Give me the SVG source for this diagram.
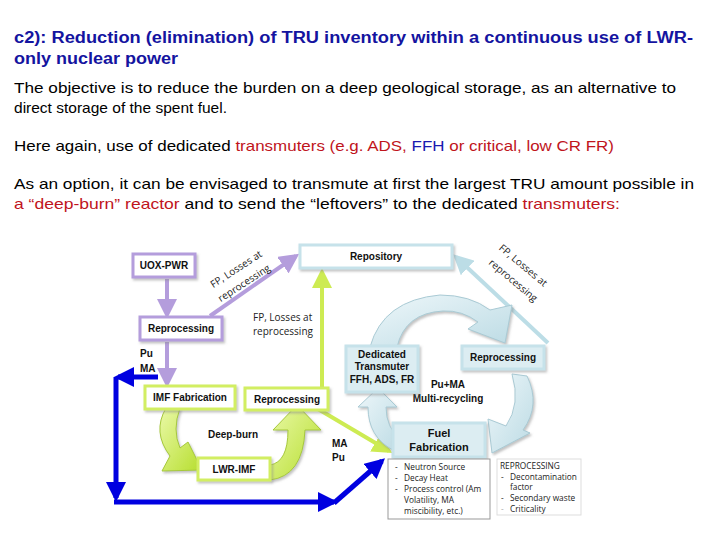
<svg xmlns="http://www.w3.org/2000/svg" width="720" height="540" viewBox="0 0 720 540">
<defs>
<style>
.t{font-family:"Liberation Sans",Arial,sans-serif;}
.title{font-size:16px;font-weight:bold;fill:#1414a0;}
.body{font-size:15px;fill:#000;}
.red{fill:#c0141c;}
.blue{fill:#1a1ab0;}
.nb{font-size:10px;font-weight:bold;fill:#111;text-anchor:middle;}
.lbl{font-size:10px;font-weight:bold;fill:#111;}
.sm{font-family:"Open Sans","Liberation Sans",sans-serif;font-size:10px;fill:#222;}
.tiny{font-family:"Open Sans","Liberation Sans",sans-serif;font-size:8.3px;fill:#222;}
.lav{fill:#fff;stroke:#b49ddc;stroke-width:3;}
.lime{fill:#fff;stroke:#d2ee62;stroke-width:3;}
.lb{fill:#fff;stroke:#c6e2ea;stroke-width:3;}
.lbf{fill:#dcedf2;stroke:#c6e2ea;stroke-width:3;}
.blk{fill:#0000e0;}
</style>
<filter id="sh" x="-20%" y="-20%" width="140%" height="150%">
<feDropShadow dx="1.5" dy="2" stdDeviation="1.2" flood-color="#888" flood-opacity="0.5"/>
</filter>
<linearGradient id="gl" x1="0" y1="0" x2="1" y2="1">
<stop offset="0" stop-color="#eaf9a8"/><stop offset="1" stop-color="#b6de2e"/>
</linearGradient>
<linearGradient id="gb" x1="0" y1="0" x2="1" y2="1">
<stop offset="0" stop-color="#eef7fa"/><stop offset="1" stop-color="#bcdbe4"/>
</linearGradient>
<marker id="mLav" markerWidth="5" markerHeight="5" refX="4" refY="2.5" orient="auto" markerUnits="strokeWidth">
<path d="M0,0 L5,2.5 L0,5 Z" fill="#b49ddc"/>
</marker>
<marker id="mLime" markerWidth="5" markerHeight="5" refX="4" refY="2.5" orient="auto" markerUnits="strokeWidth">
<path d="M0,0 L5,2.5 L0,5 Z" fill="#cdeb52"/>
</marker>
<marker id="mLb" markerWidth="5" markerHeight="5" refX="4" refY="2.5" orient="auto" markerUnits="strokeWidth">
<path d="M0,0 L5,2.5 L0,5 Z" fill="#bcdde6"/>
</marker>
<marker id="mBl" markerWidth="4" markerHeight="4" refX="3.2" refY="2" orient="auto" markerUnits="strokeWidth">
<path d="M0,0 L4,2 L0,4 Z" fill="#0000e0"/>
</marker>
</defs>
<rect width="720" height="540" fill="#fff"/>

<g id="text-header" class="t">
<text class="title" x="14" y="43" textLength="679" lengthAdjust="spacingAndGlyphs">c2):  Reduction (elimination) of TRU inventory within a  continuous use of LWR-</text>
<text class="title" x="14" y="64" textLength="164" lengthAdjust="spacingAndGlyphs">only nuclear power</text>
<text class="body" x="14" y="93" textLength="662" lengthAdjust="spacingAndGlyphs">The objective is to reduce the burden on a deep geological storage, as an alternative to</text>
<text class="body" x="14" y="113" textLength="213" lengthAdjust="spacingAndGlyphs">direct storage of the spent fuel.</text>
<text class="body" x="14" y="151" textLength="600" lengthAdjust="spacingAndGlyphs">Here again, use of dedicated <tspan class="red">transmuters (e.g. ADS, </tspan><tspan class="blue">FFH</tspan><tspan class="red"> or critical, low CR FR)</tspan></text>
<text class="body" x="14" y="189" textLength="680" lengthAdjust="spacingAndGlyphs">As an option, it can be envisaged to transmute at first the largest TRU amount possible in</text>
<text class="body" x="14" y="209" textLength="606" lengthAdjust="spacingAndGlyphs"><tspan class="red">a “deep-burn” reactor</tspan> and to send the “leftovers” to the dedicated <tspan class="red">transmuters:</tspan></text>
</g>

<g id="connectors">
<!-- lavender -->
<line x1="167" y1="279" x2="167" y2="315" stroke="#b49ddc" stroke-width="4" marker-end="url(#mLav)"/>
<line x1="167" y1="342" x2="167" y2="384" stroke="#b49ddc" stroke-width="4" marker-end="url(#mLav)"/>
<line x1="210" y1="316" x2="296" y2="256" stroke="#b49ddc" stroke-width="4" marker-end="url(#mLav)"/>
<!-- lime -->
<line x1="322" y1="387" x2="322" y2="272" stroke="#cdeb52" stroke-width="4" marker-end="url(#mLime)"/>
<line x1="318" y1="409" x2="389" y2="451" stroke="#cdeb52" stroke-width="4" marker-end="url(#mLime)"/>
<!-- light blue -->
<line x1="548" y1="343" x2="456" y2="257" stroke="#bcdde6" stroke-width="4" marker-end="url(#mLb)"/>
<!-- blue -->
<line x1="158" y1="377" x2="118" y2="377" stroke="#0000e0" stroke-width="5" marker-end="url(#mBl)"/>
<line x1="116" y1="377" x2="116" y2="498" stroke="#0000e0" stroke-width="5" marker-end="url(#mBl)"/>
<line x1="114" y1="502" x2="334" y2="502" stroke="#0000e0" stroke-width="5" marker-end="url(#mBl)"/>
<line x1="334" y1="503" x2="382" y2="461" stroke="#0000e0" stroke-width="5" marker-end="url(#mBl)"/>
<!-- block curved arrows: light blue -->
<path filter="url(#sh)" d="M370,347 Q383,300 440,295 Q470,295 490,310 L512,305 L505,343 L468,329 L478,322 Q462,310 443,311 Q405,313 397,347 Z" fill="url(#gb)" stroke="#a9cad4" stroke-width="1"/>
<path filter="url(#sh)" d="M512,374 L527,376 Q541,405 523,430 L530,433 L492,453 L488,419 L506,426 Q521,404 512,374 Z" fill="url(#gb)" stroke="#a9cad4" stroke-width="1"/>
<path filter="url(#sh)" d="M378,388 L397,407 L386,407 Q386,428 401,440 L393,450 Q368,437 368,407 L358,407 Z" fill="url(#gb)" stroke="#a9cad4" stroke-width="1"/>
<!-- block curved arrows: lime -->
<path filter="url(#sh)" d="M166,408 L180,408 Q172,430 180,448 L188,442 L202,470 L162,471 L170,456 Q152,432 166,408 Z" fill="url(#gl)" stroke="#a6c83a" stroke-width="1"/>
<path filter="url(#sh)" d="M270,465 Q288,462 288,430 L273,430 L297,405 L321,430 L305,430 Q303,476 270,480 Z" fill="url(#gl)" stroke="#a6c83a" stroke-width="1"/>
</g>

<g id="labels" class="t">
<text class="sm" transform="translate(238,272) rotate(-33)" text-anchor="middle">FP, Losses at</text>
<text class="sm" transform="translate(246,286) rotate(-33)" text-anchor="middle">reprocessing</text>
<text class="sm" transform="translate(521,268) rotate(40)" text-anchor="middle">FP, Losses at</text>
<text class="sm" transform="translate(511,283) rotate(40)" text-anchor="middle">reprocessing</text>
<text class="sm" x="253" y="321">FP, Losses at</text>
<text class="sm" x="253" y="335">reprocessing</text>
<text class="lbl" x="140" y="357">Pu</text>
<text class="lbl" x="140" y="372">MA</text>
<text class="lbl" x="332" y="447">MA</text>
<text class="lbl" x="332" y="461">Pu</text>
<text class="nb" x="233" y="438">Deep-burn</text>
<text class="nb" x="448" y="388">Pu+MA</text>
<text class="nb" x="448" y="402">Multi-recycling</text>
</g>

<g id="uox-pwr" class="t"><rect class="lav" x="133" y="254" width="62" height="23" filter="url(#sh)"/><text class="nb" x="164" y="269">UOX-PWR</text></g>
<g id="reprocessing-lav" class="t"><rect class="lav" x="140" y="317" width="82" height="23" filter="url(#sh)"/><text class="nb" x="181" y="332">Reprocessing</text></g>
<g id="repository" class="t"><rect class="lb" x="300" y="245" width="152" height="23" filter="url(#sh)"/><text class="nb" x="376" y="260">Repository</text></g>
<g id="dedicated-transmuter" class="t"><rect class="lbf" x="346" y="346" width="72" height="46" filter="url(#sh)"/><text class="nb" x="382" y="358">Dedicated</text><text class="nb" x="382" y="370">Transmuter</text><text class="nb" x="382" y="383">FFH, ADS, FR</text></g>
<g id="reprocessing-blue" class="t"><rect class="lbf" x="462" y="346" width="82" height="23" filter="url(#sh)"/><text class="nb" x="503" y="361">Reprocessing</text></g>
<g id="fuel-fabrication" class="t"><rect class="lbf" x="393" y="423" width="92" height="34" filter="url(#sh)"/><text class="nb" x="439" y="437" style="font-size:11px">Fuel</text><text class="nb" x="439" y="451" style="font-size:11px">Fabrication</text></g>
<g id="imf-fabrication" class="t"><rect class="lime" x="145" y="386" width="90" height="23" filter="url(#sh)"/><text class="nb" x="190" y="401">IMF Fabrication</text></g>
<g id="reprocessing-lime" class="t"><rect class="lime" x="245" y="388" width="83" height="22" filter="url(#sh)"/><text class="nb" x="287" y="403">Reprocessing</text></g>
<g id="lwr-imf" class="t"><rect class="lime" x="198" y="458" width="72" height="22" filter="url(#sh)"/><text class="nb" x="234" y="473">LWR-IMF</text></g>

<g id="notes-fuel">
<rect x="388" y="459" width="102" height="60" fill="#fff" stroke="#999" stroke-width="1"/>
<text class="tiny" x="395" y="470">-</text><text class="tiny" x="404" y="470">Neutron Source</text>
<text class="tiny" x="395" y="481">-</text><text class="tiny" x="404" y="481">Decay Heat</text>
<text class="tiny" x="395" y="492">-</text><text class="tiny" x="404" y="492">Process control (Am</text>
<text class="tiny" x="404" y="503">Volatility, MA</text>
<text class="tiny" x="404" y="514">miscibility, etc.)</text>
</g>
<g id="notes-reprocessing">
<rect x="497" y="459" width="84" height="56" fill="#fff" stroke="#ddd" stroke-width="1"/>
<text class="tiny" x="500" y="469">REPROCESSING</text>
<text class="tiny" x="501" y="480">-</text><text class="tiny" x="510" y="480">Decontamination</text>
<text class="tiny" x="510" y="490">factor</text>
<text class="tiny" x="501" y="501">-</text><text class="tiny" x="510" y="501">Secondary waste</text>
<text class="tiny" x="501" y="512" style="fill:#aaa">-</text><text class="tiny" x="510" y="512">Criticality</text>
</g>
</svg>
